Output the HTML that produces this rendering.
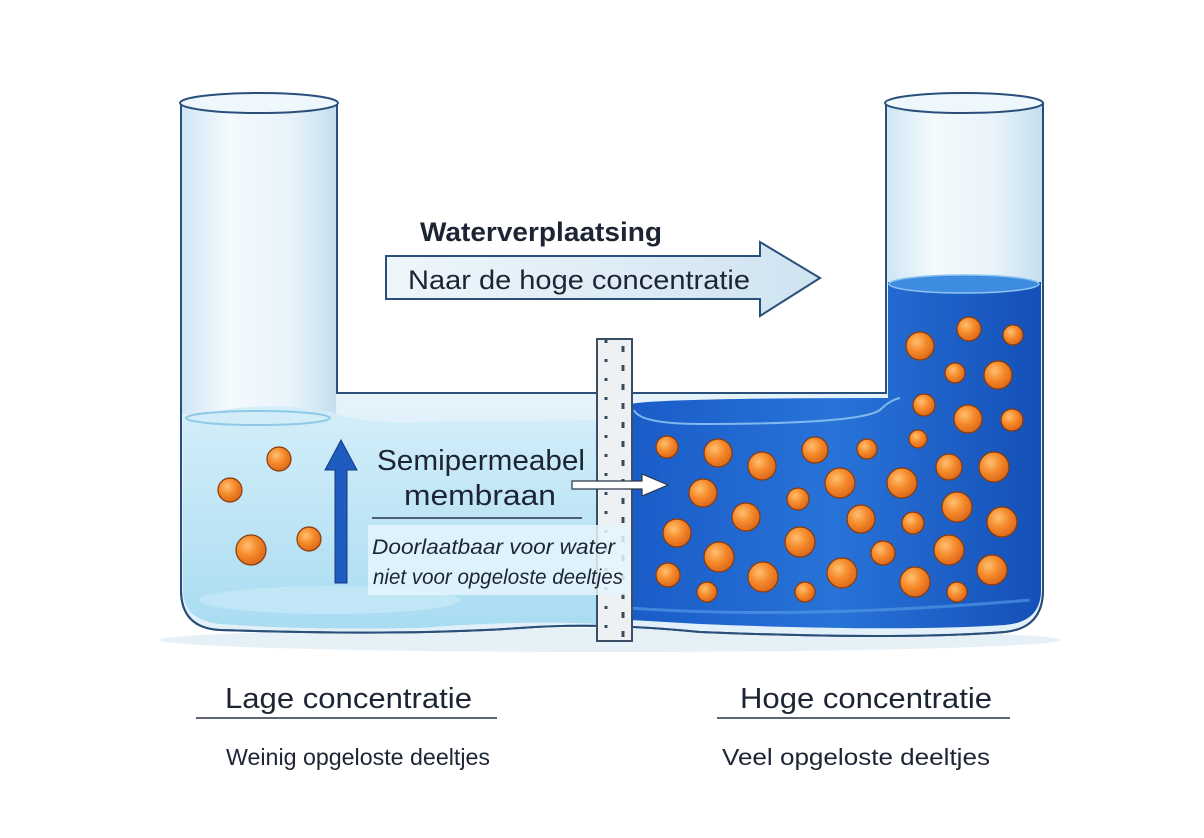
<!DOCTYPE html>
<html><head><meta charset="utf-8"><style>
html,body{margin:0;padding:0;background:#fff;}
svg{display:block}
text{font-family:"Liberation Sans",sans-serif;fill:#1d2535}
</style></head><body>
<svg width="1204" height="838" viewBox="0 0 1204 838" xmlns="http://www.w3.org/2000/svg">
<defs>
<radialGradient id="ball" cx="0.38" cy="0.35" r="0.7">
<stop offset="0" stop-color="#ffc070"/><stop offset="0.5" stop-color="#f5892a"/><stop offset="1" stop-color="#d8651a"/>
</radialGradient>
<linearGradient id="lw" x1="0" y1="0" x2="0" y2="1">
<stop offset="0" stop-color="#d4eef9"/><stop offset="1" stop-color="#a9dcf2"/>
</linearGradient>
<linearGradient id="dw" x1="0" y1="0" x2="1" y2="0">
<stop offset="0" stop-color="#1a5cc8"/><stop offset="0.5" stop-color="#2873d8"/><stop offset="1" stop-color="#1450b8"/>
</linearGradient>
<linearGradient id="glass" x1="0" y1="0" x2="1" y2="0">
<stop offset="0" stop-color="#cfe6f4"/><stop offset="0.3" stop-color="#f4fafd"/><stop offset="0.7" stop-color="#e8f3fa"/><stop offset="1" stop-color="#c4dff0"/>
</linearGradient>
<linearGradient id="arr" x1="0" y1="0" x2="1" y2="0">
<stop offset="0" stop-color="#eef6fb"/><stop offset="1" stop-color="#cfe3f1"/>
</linearGradient>
</defs>

<ellipse cx="610" cy="640" rx="450" ry="12" fill="#dbe9f3" opacity="0.7"/>

<!-- vessel outline -->
<path d="M181,103 L181,590 Q181,628 220,630 Q400,636 520,628 Q600,622 700,632 Q900,640 1005,632 Q1043,628 1043,590 L1043,103 L886,103 L886,393 L337,393 L337,103 Z" fill="#e2f1f9" stroke="#2a4f7a" stroke-width="2"/>
<rect x="182" y="104" width="154" height="310" fill="url(#glass)"/>
<rect x="887" y="104" width="155" height="180" fill="url(#glass)"/>
<rect x="338" y="394" width="548" height="20" fill="#e4f3fa"/>

<!-- light water -->
<path d="M183,418 Q260,398 330,412 Q360,424 420,422 L600,420 L600,624 Q520,620 420,628 Q300,630 220,624 Q183,620 183,590 Z" fill="url(#lw)"/>
<ellipse cx="258" cy="418" rx="72" ry="7" fill="none" stroke="#8fc9e6" stroke-width="2"/>
<ellipse cx="330" cy="600" rx="130" ry="14" fill="#c6e8f7" opacity="0.8"/>

<!-- dark water -->
<path d="M630,404 Q660,398 880,398 L888,398 L888,282 L1041,282 L1041,590 Q1041,622 1005,625 Q900,632 700,624 L630,620 Z" fill="url(#dw)"/>
<ellipse cx="964" cy="284" rx="75" ry="9" fill="#3e8ce0" stroke="#8ec3ef" stroke-width="1.5"/>
<path d="M634,410 Q640,424 700,424 Q860,424 880,410 Q890,400 900,398" fill="none" stroke="#7fb8ee" stroke-width="2"/>
<path d="M630,608 Q800,620 1030,600" fill="none" stroke="#5a9ee8" stroke-width="3" opacity="0.6"/>
<path d="M181,103 L181,590 Q181,628 220,630 Q400,636 520,628 Q600,622 700,632 Q900,640 1005,632 Q1043,628 1043,590 L1043,103" fill="none" stroke="#2a4f7a" stroke-width="2"/>

<ellipse cx="259" cy="103" rx="79" ry="10" fill="#eef7fc" stroke="#2a4f7a" stroke-width="2"/>
<ellipse cx="964" cy="103" rx="79" ry="10" fill="#eef7fc" stroke="#2a4f7a" stroke-width="2"/>

<g fill="url(#ball)" stroke="#8a3a0a" stroke-width="1.2">
<circle cx="279" cy="459" r="12"/><circle cx="230" cy="490" r="12"/><circle cx="251" cy="550" r="15"/><circle cx="309" cy="539" r="12"/>
<circle cx="667" cy="447" r="11"/><circle cx="718" cy="453" r="14"/><circle cx="762" cy="466" r="14"/><circle cx="815" cy="450" r="13"/><circle cx="867" cy="449" r="10"/>
<circle cx="920" cy="346" r="14"/><circle cx="969" cy="329" r="12"/><circle cx="1013" cy="335" r="10"/><circle cx="955" cy="373" r="10"/><circle cx="998" cy="375" r="14"/>
<circle cx="924" cy="405" r="11"/><circle cx="968" cy="419" r="14"/><circle cx="1012" cy="420" r="11"/><circle cx="918" cy="439" r="9"/>
<circle cx="703" cy="493" r="14"/><circle cx="798" cy="499" r="11"/><circle cx="840" cy="483" r="15"/><circle cx="902" cy="483" r="15"/><circle cx="949" cy="467" r="13"/><circle cx="994" cy="467" r="15"/>
<circle cx="677" cy="533" r="14"/><circle cx="746" cy="517" r="14"/><circle cx="861" cy="519" r="14"/><circle cx="913" cy="523" r="11"/><circle cx="957" cy="507" r="15"/><circle cx="1002" cy="522" r="15"/>
<circle cx="719" cy="557" r="15"/><circle cx="800" cy="542" r="15"/><circle cx="883" cy="553" r="12"/><circle cx="949" cy="550" r="15"/>
<circle cx="668" cy="575" r="12"/><circle cx="707" cy="592" r="10"/><circle cx="763" cy="577" r="15"/><circle cx="805" cy="592" r="10"/><circle cx="842" cy="573" r="15"/><circle cx="915" cy="582" r="15"/><circle cx="957" cy="592" r="10"/><circle cx="992" cy="570" r="15"/>
</g>

<rect x="597" y="339" width="35" height="302" fill="#eef1f4" stroke="#3a4e66" stroke-width="2"/>
<g stroke="#3a4a5a" stroke-width="3">
<line x1="606" y1="340" x2="606" y2="640" stroke-dasharray="3,16"/>
<line x1="623" y1="346" x2="623" y2="640" stroke-dasharray="6,13"/>
</g>

<path d="M386,256 L760,256 L760,242 L820,278 L760,316 L760,299 L386,299 Z" fill="url(#arr)" stroke="#2a4f7a" stroke-width="2"/>
<text x="420" y="241" font-size="27" font-weight="bold" fill="#1d2535" textLength="242" lengthAdjust="spacingAndGlyphs">Waterverplaatsing</text>
<text x="408" y="289" font-size="27" textLength="342" lengthAdjust="spacingAndGlyphs">Naar de hoge concentratie</text>

<path d="M335,583 L335,470 L325,470 L341,440 L357,470 L347,470 L347,583 Z" fill="#1f5cc0" stroke="#123a80" stroke-width="1"/>

<rect x="368" y="525" width="262" height="70" fill="#e4f4fb" opacity="0.85"/>
<text x="377" y="470" font-size="29" textLength="208" lengthAdjust="spacingAndGlyphs">Semipermeabel</text>
<text x="404" y="505" font-size="29" textLength="152" lengthAdjust="spacingAndGlyphs">membraan</text>
<line x1="372" y1="518" x2="582" y2="518" stroke="#2a3548" stroke-width="1.5"/>
<text x="372" y="554" font-size="21" font-style="italic" textLength="243" lengthAdjust="spacingAndGlyphs">Doorlaatbaar voor water</text>
<text x="373" y="584" font-size="21" font-style="italic" textLength="250" lengthAdjust="spacingAndGlyphs">niet voor opgeloste deeltjes</text>
<path d="M572,481 L642,481 L642,474 L668,485 L642,496 L642,489 L572,489 Z" fill="#fff" stroke="#2a3548" stroke-width="1.2"/>

<text x="225" y="708" font-size="29" textLength="247" lengthAdjust="spacingAndGlyphs">Lage concentratie</text>
<line x1="196" y1="718" x2="497" y2="718" stroke="#2a3548" stroke-width="1.5"/>
<text x="226" y="765" font-size="23" textLength="264" lengthAdjust="spacingAndGlyphs">Weinig opgeloste deeltjes</text>
<text x="740" y="708" font-size="29" textLength="252" lengthAdjust="spacingAndGlyphs">Hoge concentratie</text>
<line x1="717" y1="718" x2="1010" y2="718" stroke="#2a3548" stroke-width="1.5"/>
<text x="722" y="765" font-size="23" textLength="268" lengthAdjust="spacingAndGlyphs">Veel opgeloste deeltjes</text>
</svg>
</body></html>
